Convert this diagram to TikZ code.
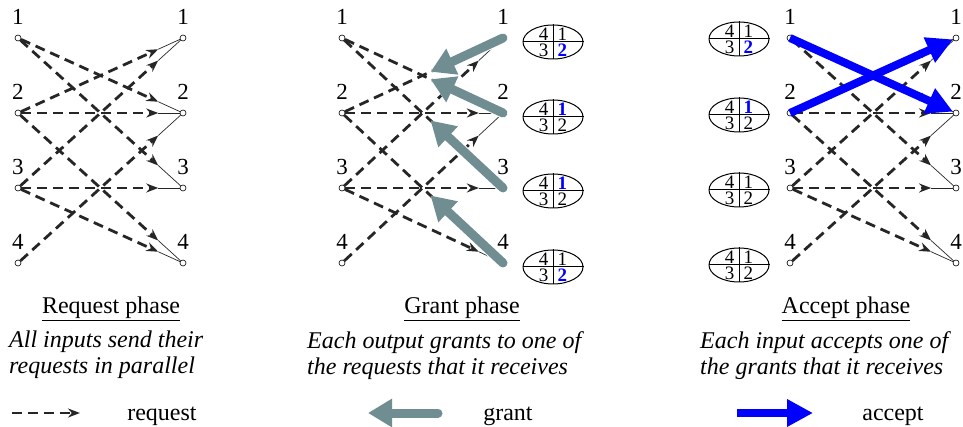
\documentclass[tikz,border=0pt]{standalone}
\usepackage{fontspec}
\setmainfont{Liberation Serif}
\usetikzlibrary{arrows.meta,calc,positioning,shapes.geometric}

\definecolor{reqdark}{RGB}{38,38,38}
\definecolor{grantgray}{RGB}{112,141,146}

\tikzset{
  port/.style={circle, draw, fill=white, minimum size=6pt, inner sep=0pt, line width=0.6pt},
  portnum/.style={font=\fontsize{23}{23}\selectfont, inner sep=1pt},
  request/.style={draw=reqdark, line width=2.8pt, dash pattern=on 10pt off 6pt,
    -{Stealth[length=12pt,width=9pt]}},
  tail/.style={draw=reqdark, line width=0.7pt},
  grant/.style={draw=grantgray, line width=9pt, line cap=round,
    -{Triangle[length=24pt,width=27pt]},
    preaction={draw=white, line width=11pt, -{Triangle[length=26pt,width=30pt]}}},
  accept/.style={draw=blue, line width=8pt, -{Triangle[length=26pt,width=26pt]}},
  rrptr/.style={ellipse, draw, line width=1pt, minimum width=60pt, minimum height=34pt, inner sep=0pt},
  digit/.style={font=\fontsize{19}{19}\selectfont, inner xsep=4.5pt, inner ysep=0pt},
  title/.style={font=\fontsize{24}{28}\selectfont},
  desc/.style={font=\fontsize{24}{26}\selectfont\itshape, align=left, inner sep=0pt},
  legend/.style={font=\fontsize{24}{28}\selectfont},
}

\newcommand{\hl}[1]{\textcolor{blue}{\textbf{#1}}}

% inputs at x = #2, outputs at x = #3, numbered 1..4 from the top
\newcommand{\ports}[3]{%
  \foreach \row/\ypos in {1/38,2/113,3/188,4/263}{
    \node[port] (#1i\row) at (#2,\ypos) {};
    \node[port] (#1o\row) at (#3,\ypos) {};
    \node[portnum, above=9pt of #1i\row] (#1a\row) {\row};
    \node[portnum, above=9pt of #1o\row] (#1b\row) {\row};
  }
}

% the nine requests, arrow tip a bit before the output
\newcommand{\requests}[1]{%
  \foreach \src/\dst in {1/2,1/3,2/1,2/2,2/4,3/1,3/3,3/4,4/2}{
    \draw[request] (#1i\src) -- ($(#1i\src)!0.85!(#1o\dst)$) coordinate (#1m\src\dst);
    \draw[tail] (#1m\src\dst) -- (#1o\dst);
  }
}

% round-robin pointer: 4|1 over 3|2
\newcommand{\rrtable}[4]{%
  \node[rrptr] (#1) at (#2) {};
  \draw[line width=1pt] (#1.north) -- (#1.south) (#1.west) -- (#1.east);
  \node[digit, anchor=south east] (#1-tl) at ([yshift=1.5pt]#1.center) {4};
  \node[digit, anchor=south west] (#1-tr) at ([yshift=1.5pt]#1.center) {#3};
  \node[digit, anchor=north east] (#1-bl) at ([yshift=-1.5pt]#1.center) {3};
  \node[digit, anchor=north west] (#1-br) at ([yshift=-1.5pt]#1.center) {#4};
}

\begin{document}
\begin{tikzpicture}[x=1pt, y=-1pt]
  \useasboundingbox (0,0) rectangle (963,427);

  % Ports of the three phases
  \ports{rq-}{18}{183}
  \ports{gr-}{342}{503}
  \ports{ac-}{790}{956}

  % Requests (same in every phase)
  \requests{rq-}
  \requests{gr-}
  \requests{ac-}

  % Grant pointers at the outputs
  \rrtable{gr-p1}{553,42}{1}{\hl{2}}
  \rrtable{gr-p2}{553,117}{\hl{1}}{2}
  \rrtable{gr-p3}{553,191}{\hl{1}}{2}
  \rrtable{gr-p4}{553,267}{1}{\hl{2}}

  % Accept pointers at the inputs
  \rrtable{ac-p1}{739,39}{1}{\hl{2}}
  \rrtable{ac-p2}{739,115}{\hl{1}}{2}
  \rrtable{ac-p3}{739,190}{1}{2}
  \rrtable{ac-p4}{739,265}{1}{2}

  % Grants
  \draw[grant] (gr-o1.center) -- ($(gr-o1)!0.45!(gr-i2)$);
  \draw[grant] (gr-o2.center) -- ($(gr-o2)!0.45!(gr-i1)$);
  \draw[grant] (gr-o3.center) -- ($(gr-o3)!0.45!(gr-i1)$);
  \draw[grant] (gr-o4.center) -- ($(gr-o4)!0.45!(gr-i2)$);

  % Accepts
  \draw[accept] (ac-i1.center) -- (ac-o2);
  \draw[accept] (ac-i2.center) -- (ac-o1);

  % Captions
  \node[title, anchor=base] (rq-title) at (111,314) {\underline{Request phase}};
  \node[title, anchor=base] (gr-title) at (462,314) {\underline{Grant phase}};
  \node[title, anchor=base] (ac-title) at (846,314) {\underline{Accept phase}};

  \node[desc, anchor=north west] (rq-desc) at (9,331)
    {All inputs send their\\requests in parallel};
  \node[desc, anchor=north west] (gr-desc) at (307,331)
    {Each output grants to one of\\the requests that it receives};
  \node[desc, anchor=north west] (ac-desc) at (700,331)
    {Each input accepts one of\\the grants that it receives};

  % Legend
  \coordinate (lg-r1) at (12,413);
  \coordinate (lg-r2) at (80,413);
  \coordinate (lg-g1) at (438,413);
  \coordinate (lg-g2) at (368,413);
  \coordinate (lg-a1) at (737,413);
  \coordinate (lg-a2) at (813,413);
  \draw[request] (lg-r1) -- (lg-r2);
  \draw[grant] (lg-g1) -- (lg-g2);
  \draw[accept] (lg-a1) -- (lg-a2);
  \node[legend, anchor=base] (lg-req) at (162,420) {request};
  \node[legend, anchor=base] (lg-gnt) at (508,420) {grant};
  \node[legend, anchor=base] (lg-acc) at (893,420) {accept};

\end{tikzpicture}
\end{document}
